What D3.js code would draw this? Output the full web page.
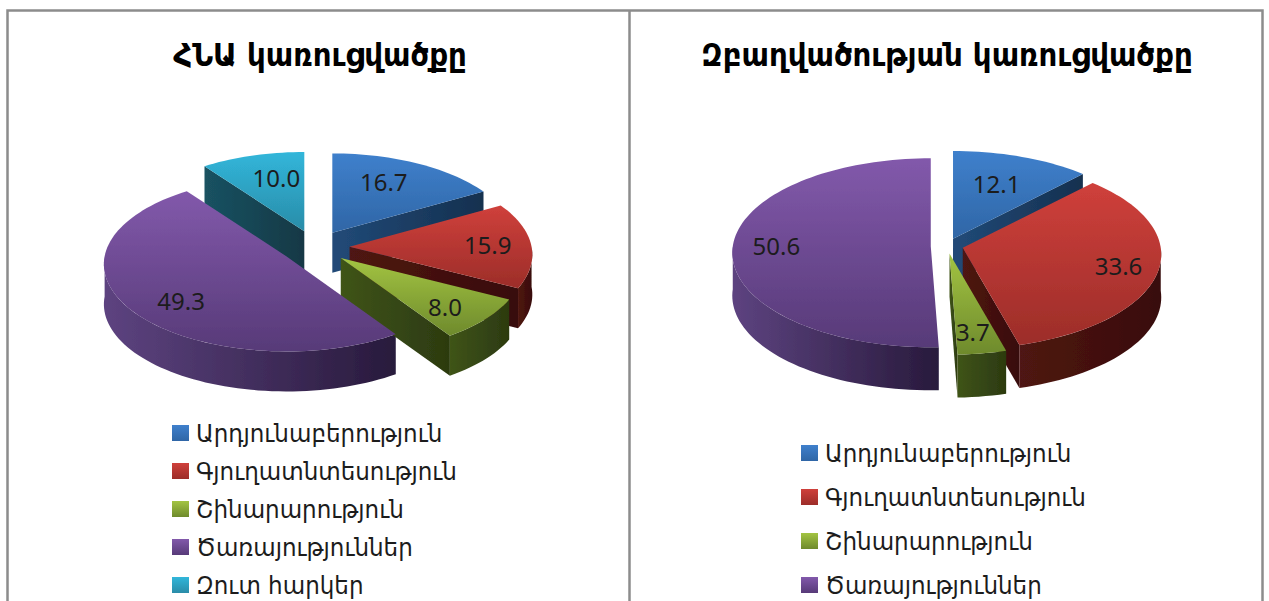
<!DOCTYPE html>
<html>
<head>
<meta charset="utf-8">
<script src="https://cdn.jsdelivr.net/npm/d3@7"></script>
<style>
  html, body { margin: 0; padding: 0; background: #fff; }
  svg { display: block; }
  text { fill: #1c1c1c; }
  .title { font-family: "DejaVu Sans Condensed", "DejaVu Sans", sans-serif; font-weight: bold; font-size: 32.5px; text-anchor: middle; fill: #000; }
  .legend { font-family: "DejaVu Sans Condensed", "DejaVu Sans", sans-serif; font-size: 25.6px; }
  .value { font-family: "Noto Sans", sans-serif; font-size: 24px; text-anchor: middle; }
</style>
</head>
<body>
<svg></svg>
<script>
const width = 1269;
const height = 601;

// DATA
const sectors = ['Արդյունաբերություն', 'Գյուղատնտեսություն', 'Շինարարություն', 'Ծառայություններ', 'Զուտ հարկեր'];
const gdpValues = [16.7, 15.9, 8.0, 49.3, 10.0];
const employmentValues = [12.1, 33.6, 3.7, 50.6];
const gdpTitle = 'ՀՆԱ կառուցվածքը';
const employmentTitle = 'Զբաղվածության կառուցվածքը';

// label spots inside each slice, as [degrees clockwise from 12, fraction of radius]
const gdpLabelSpots = [[26, 0.68], [89, 0.76], [135, 0.77], [228, 0.745], [346, 0.67]];
const employmentLabelSpots = [[21, 0.64], [104, 0.80], [172, 0.80], [270, 0.78]];

// top light, top dark, wall light, wall dark
const palette = [
  ['#3f80cc', '#2f66a6', '#214a78', '#15304f'],
  ['#cf403b', '#9c2d29', '#4f1512', '#380d0b'],
  ['#a3c442', '#6e8a2c', '#3f5419', '#2c3a10'],
  ['#8259ab', '#573a78', '#5d4380', '#281a3c'],
  ['#31b6da', '#2a8ca8', '#1a5262', '#123845']
];

const svg = d3.select('svg')
  .attr('width', width)
  .attr('height', height);

const defs = svg.append('defs');

palette.forEach((c, i) => {
  const top = defs.append('linearGradient').attr('id', 'top' + i)
    .attr('x1', 0).attr('y1', 0).attr('x2', 0).attr('y2', 1);
  top.append('stop').attr('offset', 0).attr('stop-color', c[0]);
  top.append('stop').attr('offset', 1).attr('stop-color', c[1]);
  const wall = defs.append('linearGradient').attr('id', 'wall' + i)
    .attr('x1', 0).attr('y1', 0).attr('x2', 1).attr('y2', 0);
  wall.append('stop').attr('offset', 0).attr('stop-color', c[2]);
  wall.append('stop').attr('offset', 1).attr('stop-color', c[3]);
});

defs.append('filter').attr('id', 'soft')
  .append('feGaussianBlur').attr('stdDeviation', 0.5);

// FRAME
const frame = svg.append('g').attr('fill', 'none').attr('stroke', '#8c8c8c').attr('stroke-width', 2.5);
frame.append('rect').attr('x', 7.5).attr('y', 10.5).attr('width', 1255).attr('height', 600);
frame.append('line').attr('x1', 629.5).attr('y1', 11).attr('x2', 629.5).attr('y2', 601);

const rad = d => d * Math.PI / 180;

// 3D PIE
function drawPie(o) {
  const g = svg.append('g');
  const slices = d3.pie().sort(null)(o.values);

  // plan position to screen, the far side of the pie is drawn a little smaller
  const project = (angle, r, slice) => {
    const mid = (slice.startAngle + slice.endAngle) / 2;
    const X = r * Math.sin(angle);
    const Y = r * Math.cos(angle);
    const s = 1 / (1 + o.perspective * Y);
    return [
      o.cx + o.explode * o.rx * Math.sin(mid) + s * X * o.rx,
      o.cy - o.explode * o.ry * Math.cos(mid) - s * Y * o.ry
    ];
  };
  const line = d3.line();
  const sample = (a0, a1) => {
    const n = Math.max(2, Math.ceil((a1 - a0) / rad(2)));
    return d3.range(n + 1).map(i => a0 + (a1 - a0) * i / n);
  };
  const drop = p => [p[0], p[1] + o.depth];

  const byDepth = slices.slice().sort((a, b) =>
    Math.cos((b.startAngle + b.endAngle) / 2) - Math.cos((a.startAngle + a.endAngle) / 2));

  // walls go first, top faces go over all of them
  byDepth.forEach(d => {
    const edge = a => {
      const apex = project(a, 0, d);
      const rim = project(a, 1, d);
      return line([apex, rim, drop(rim), drop(apex)]) + 'Z';
    };
    if (Math.sin(d.startAngle) < -1e-6) {
      g.append('path').attr('d', edge(d.startAngle)).attr('fill', `url(#wall${d.index})`);
    }
    if (Math.sin(d.endAngle) > 1e-6) {
      g.append('path').attr('d', edge(d.endAngle)).attr('fill', `url(#wall${d.index})`);
    }
    // only the front half of the rim can be seen
    const a0 = Math.max(d.startAngle, Math.PI / 2);
    const a1 = Math.min(d.endAngle, Math.PI * 3 / 2);
    if (a1 > a0) {
      const rim = sample(a0, a1).map(a => project(a, 1, d));
      g.append('path')
        .attr('d', line(rim.concat(rim.slice().reverse().map(drop))) + 'Z')
        .attr('fill', `url(#wall${d.index})`);
    }
  });

  byDepth.forEach(d => {
    const rim = sample(d.startAngle, d.endAngle).map(a => project(a, 1, d));
    g.append('path')
      .attr('d', line([project(0, 0, d)].concat(rim)) + 'Z')
      .attr('fill', `url(#top${d.index})`);
  });

  g.attr('filter', 'url(#soft)');

  svg.append('g').selectAll('text')
    .data(slices)
    .enter().append('text')
    .attr('class', 'value')
    .attr('x', d => project(rad(o.labelSpots[d.index][0]), o.labelSpots[d.index][1], d)[0])
    .attr('y', d => project(rad(o.labelSpots[d.index][0]), o.labelSpots[d.index][1], d)[1])
    .attr('dy', '0.35em')
    .text(d => d.value.toFixed(1));

  svg.append('text').attr('class', 'title')
    .attr('x', o.titleX).attr('y', 66).text(o.title);

  // LEGEND
  const rowY = d3.scalePoint().domain(o.values.map((v, i) => i)).range(o.legendRange);
  const rows = svg.append('g').selectAll('g')
    .data(o.values)
    .enter().append('g')
    .attr('transform', (v, i) => `translate(${o.legendX},${rowY(i)})`);
  rows.append('rect')
    .attr('x', 0).attr('y', -8).attr('width', 17).attr('height', 16)
    .attr('fill', (v, i) => `url(#top${i})`);
  rows.append('text')
    .attr('class', 'legend')
    .attr('x', 24).attr('dy', '0.35em')
    .text((v, i) => sectors[i]);
}

drawPie({
  values: gdpValues, labelSpots: gdpLabelSpots, title: gdpTitle,
  cx: 315, cy: 247, rx: 182, ry: 86.5, explode: 0.19, perspective: 0.09, depth: 40,
  titleX: 320, legendX: 172, legendRange: [433, 585]
});

drawPie({
  values: employmentValues, labelSpots: employmentLabelSpots, title: employmentTitle,
  cx: 947, cy: 246, rx: 198, ry: 94, explode: 0.082, perspective: 0.07, depth: 43,
  titleX: 947, legendX: 801, legendRange: [453, 585]
});
</script>
</body>
</html>
